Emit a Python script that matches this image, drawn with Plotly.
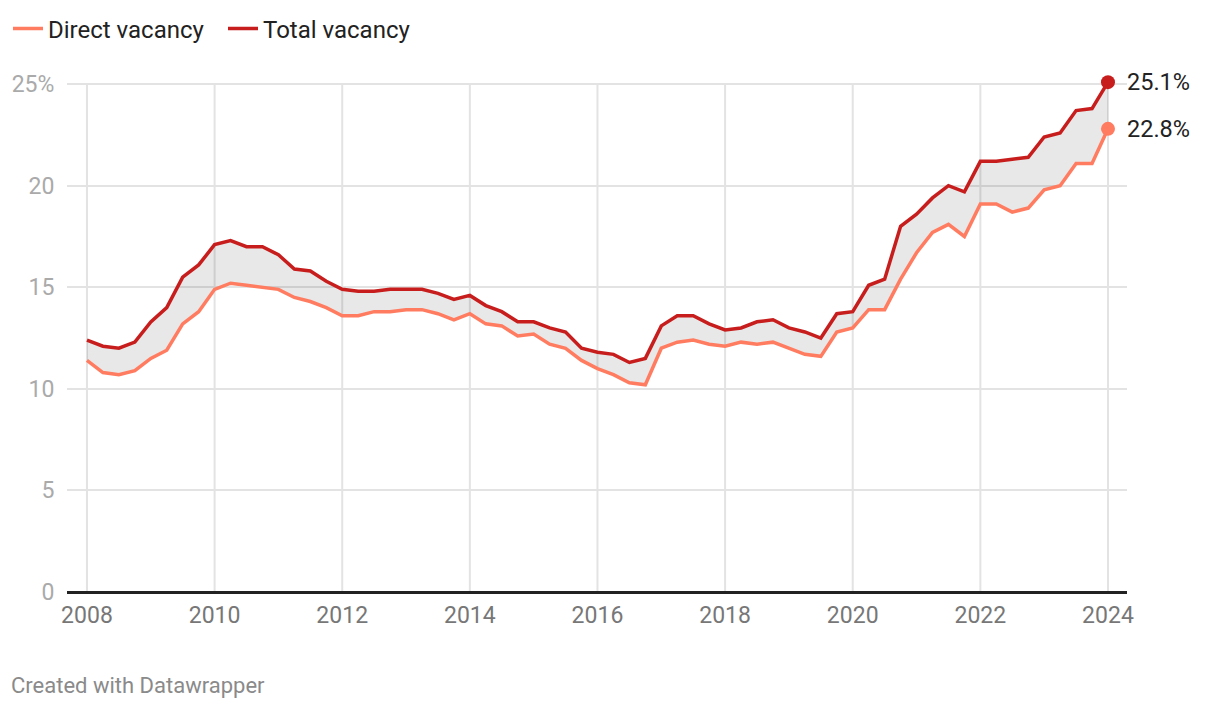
import plotly.graph_objects as go

# Quarterly data, 2008 Q1 .. 2024 Q1
years = [2008 + q * 0.25 for q in range(65)]
direct_vacancy = [
    11.4, 10.8, 10.7, 10.9,
    11.5, 11.9, 13.2, 13.8,
    14.9, 15.2, 15.1, 15.0,
    14.9, 14.5, 14.3, 14.0,
    13.6, 13.6, 13.8, 13.8,
    13.9, 13.9, 13.7, 13.4,
    13.7, 13.2, 13.1, 12.6,
    12.7, 12.2, 12.0, 11.4,
    11.0, 10.7, 10.3, 10.2,
    12.0, 12.3, 12.4, 12.2,
    12.1, 12.3, 12.2, 12.3,
    12.0, 11.7, 11.6, 12.8,
    13.0, 13.9, 13.9, 15.4,
    16.7, 17.7, 18.1, 17.5,
    19.1, 19.1, 18.7, 18.9,
    19.8, 20.0, 21.1, 21.1,
    22.8,
]
total_vacancy = [
    12.4, 12.1, 12.0, 12.3,
    13.3, 14.0, 15.5, 16.1,
    17.1, 17.3, 17.0, 17.0,
    16.6, 15.9, 15.8, 15.3,
    14.9, 14.8, 14.8, 14.9,
    14.9, 14.9, 14.7, 14.4,
    14.6, 14.1, 13.8, 13.3,
    13.3, 13.0, 12.8, 12.0,
    11.8, 11.7, 11.3, 11.5,
    13.1, 13.6, 13.6, 13.2,
    12.9, 13.0, 13.3, 13.4,
    13.0, 12.8, 12.5, 13.7,
    13.8, 15.1, 15.4, 18.0,
    18.6, 19.4, 20.0, 19.7,
    21.2, 21.2, 21.3, 21.4,
    22.4, 22.6, 23.7, 23.8,
    25.1,
]
series_names = ["Direct vacancy", "Total vacancy"]
x_tick_vals = [2008, 2010, 2012, 2014, 2016, 2018, 2020, 2022, 2024]
x_tick_text = ["2008", "2010", "2012", "2014", "2016", "2018", "2020", "2022", "2024"]
y_tick_vals = [0, 5, 10, 15, 20, 25]
y_tick_text = ["0", "5", "10", "15", "20", "25%"]

DIRECT_COLOR = "#ff7c61"
TOTAL_COLOR = "#c71e1d"
FONT = "Roboto, 'Noto Sans', sans-serif"

fig = go.Figure()

# band fill between the two series
fig.add_trace(go.Scatter(x=years, y=direct_vacancy, mode="lines",
                         line=dict(width=0, color="rgba(0,0,0,0)"),
                         showlegend=False, hoverinfo="skip"))
fig.add_trace(go.Scatter(x=years, y=total_vacancy, mode="lines",
                         line=dict(width=0, color="rgba(0,0,0,0)"),
                         fill="tonexty", fillcolor="rgba(0,0,0,0.09)",
                         showlegend=False, hoverinfo="skip"))

# lines
fig.add_trace(go.Scatter(x=years, y=direct_vacancy, mode="lines",
                         name=series_names[0],
                         line=dict(width=3.5, color=DIRECT_COLOR)))
fig.add_trace(go.Scatter(x=years, y=total_vacancy, mode="lines",
                         name=series_names[1],
                         line=dict(width=3.5, color=TOTAL_COLOR)))

annotations = []
# end markers with labels
for vals, col in [(direct_vacancy, DIRECT_COLOR), (total_vacancy, TOTAL_COLOR)]:
    fig.add_trace(go.Scatter(x=[years[-1]], y=[vals[-1]], mode="markers",
                             marker=dict(size=14, color=col),
                             cliponaxis=False, showlegend=False, hoverinfo="skip"))
    annotations.append(dict(x=years[-1], y=vals[-1], xref="x", yref="y",
                            text=f"{vals[-1]:.1f}%", showarrow=False,
                            xanchor="left", yanchor="middle", xshift=17,
                            font=dict(size=23.5, color="#222222", family=FONT)))

annotations.append(dict(text="Created with Datawrapper", xref="paper", yref="paper",
                        x=(9 - 67) / 1060, y=(592 - 685) / 518,
                        xanchor="left", yanchor="middle",
                        showarrow=False, font=dict(size=22, color="#8a8a8a", family=FONT)))

# vertical gridlines (only up to the top gridline)
for xv in x_tick_vals:
    fig.add_shape(type="line", xref="x", yref="y", x0=xv, x1=xv, y0=0, y1=25,
                  line=dict(color="#e3e3e3", width=2), layer="below")

fig.update_layout(
    width=1220, height=708,
    margin=dict(l=59, r=101, t=66, b=124, autoexpand=False),
    paper_bgcolor="white", plot_bgcolor="white",
    font=dict(family=FONT, size=20, color="#333333"),
    showlegend=True,
    legend=dict(orientation="h", xref="container", yref="container",
                x=-9 / 1220, y=1 - 21 / 708, xanchor="left", yanchor="middle",
                font=dict(size=24, color="#222222", family=FONT),
                itemwidth=30, entrywidth=170, entrywidthmode="pixels",
                bgcolor="rgba(0,0,0,0)", traceorder="normal"),
    xaxis=dict(range=[2007.687, 2024.298], tickvals=x_tick_vals, ticktext=x_tick_text,
               showgrid=False, zeroline=False, showline=False, automargin=False,
               ticks="outside", ticklen=2, tickcolor="rgba(0,0,0,0)",
               tickfont=dict(size=23, color="#777777", family=FONT)),
    yaxis=dict(range=[0, 25.5], tickvals=y_tick_vals, ticktext=y_tick_text,
               showgrid=True, gridcolor="#e3e3e3", gridwidth=2, automargin=False,
               zeroline=True, zerolinecolor="#222222", zerolinewidth=3,
               showline=False, ticks="outside", ticklen=7, tickcolor="rgba(0,0,0,0)",
               tickfont=dict(size=23, color="#aaaaaa", family=FONT)),
    annotations=annotations,
)

fig.write_html("out.html")
